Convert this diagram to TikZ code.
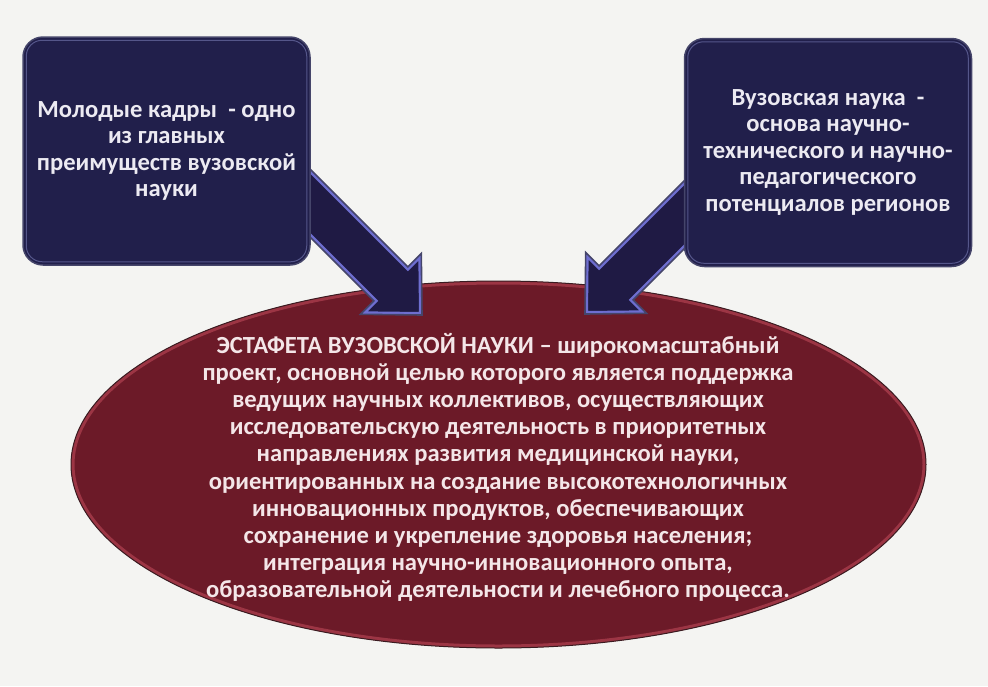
\documentclass[tikz,border=0pt]{standalone}
\usepackage{fontspec}
\setmainfont{Carlito}
\usetikzlibrary{calc,shapes.geometric}
\definecolor{bg}{HTML}{F4F4F2}
\definecolor{navy}{HTML}{211F4B}
\definecolor{arrownavy}{HTML}{1F1A44}
\definecolor{navyedge}{HTML}{45456A}
\definecolor{navylight}{HTML}{6E6ED0}
\definecolor{boxlight}{HTML}{62649A}
\definecolor{maroon}{HTML}{6C1A28}
\definecolor{maroonrim}{HTML}{A83C4C}
\definecolor{maroonedge}{HTML}{3A1A20}
\definecolor{boxtext}{HTML}{ECEAF2}
\definecolor{elltext}{HTML}{F4E6E8}
\newcommand\mkarrow[2]{%
  \coordinate (hb) at ($(#2)!44pt!(#1)$);
  \coordinate (s1) at ($(#1)!24pt!90:(#2)$);
  \coordinate (s2) at ($(#1)!24pt!-90:(#2)$);
  \coordinate (h1) at ($(hb)!24pt!90:(#2)$);
  \coordinate (h2) at ($(hb)!24pt!-90:(#2)$);
  \coordinate (w1) at ($(hb)!43pt!90:(#2)$);
  \coordinate (w2) at ($(hb)!43pt!-90:(#2)$);
  \fill[arrownavy] (s1) -- (h1) -- (w1) -- (#2) -- (w2) -- (h2) -- (s2) -- cycle;
  \begin{scope}
    \clip (s1) -- (h1) -- (w1) -- (#2) -- (w2) -- (h2) -- (s2) -- cycle;
    \draw[navylight, line width=6pt] (s1) -- (h1) -- (w1) -- (#2) -- (w2) -- (h2) -- (s2) -- cycle;
  \end{scope}
  \draw[arrowedge] (s1) -- (h1) -- (w1) -- (#2) -- (w2) -- (h2) -- (s2) -- cycle;
}
\begin{document}
\begin{tikzpicture}[x=1pt,y=-1pt,
  infobox/.style={rectangle, rounded corners=20pt, fill=navy, draw=navyedge, line width=1.5pt,
    minimum width=287pt, minimum height=228pt, inner sep=0pt},
  boxinner/.style={boxlight, line width=1pt, rounded corners=16pt, opacity=.8},
  boxlabel/.style={text=boxtext, align=center, font=\bfseries\fontsize{24.6}{26.5}\selectfont},
  ovalshape/.style={ellipse, fill=maroon, minimum width=855pt, minimum height=367pt, inner sep=0pt},
  ovallabel/.style={text=elltext, align=center, font=\bfseries\fontsize{24.6}{27.2}\selectfont},
  arrowedge/.style={navyedge, line width=1.6pt, line join=miter}
]
\fill[bg] (0,0) rectangle (988,686);
\useasboundingbox (0,0) rectangle (988,686);

% central ellipse
\node[ovalshape] (oval) at (498.5,464.5) {};
\begin{scope}
  \clip (oval.center) ellipse [x radius=427.5, y radius=183.5];
  \draw[maroonrim, line width=7pt, opacity=.8] (oval.center) ellipse [x radius=427.5, y radius=183.5];
\end{scope}
\draw[maroonedge, line width=1pt] (oval.center) ellipse [x radius=427.5, y radius=183.5];
\node[ovallabel] (ovaltext) at (498,467.5) {ЭСТАФЕТА ВУЗОВСКОЙ НАУКИ – широкомасштабный\\
проект, основной целью которого является поддержка\\
ведущих научных коллективов, осуществляющих\\
исследовательскую деятельность в приоритетных\\
направлениях развития медицинской науки,\\
ориентированных на создание высокотехнологичных\\
инновационных продуктов, обеспечивающих\\
сохранение и укрепление здоровья населения;\\
интеграция научно-инновационного опыта,\\
образовательной деятельности и лечебного процесса.};

% arrows
\coordinate (ltail) at (281,174);
\coordinate (ltip) at (422,315);
\coordinate (rtail) at (726,173);
\coordinate (rtip) at (585,314);
\mkarrow{ltail}{ltip}
\mkarrow{rtail}{rtip}

% boxes
\node[infobox] (lbox) at (166.5,151) {};
\draw[boxinner] ([shift={(4,-4)}]lbox.south west) rectangle ([shift={(-4,4)}]lbox.north east);
\node[boxlabel] (ltext) at (lbox.center) {Молодые кадры\ \ - одно\\ из главных\\ преимуществ вузовской\\ науки};

\node[infobox] (rbox) at (828,152.5) {};
\draw[boxinner] ([shift={(4,-4)}]rbox.south west) rectangle ([shift={(-4,4)}]rbox.north east);
\node[boxlabel] (rtext) at (rbox.center) {Вузовская наука\ \ -\\ основа научно-\\ технического и научно-\\ педагогического\\ потенциалов регионов};
\end{tikzpicture}
\end{document}
